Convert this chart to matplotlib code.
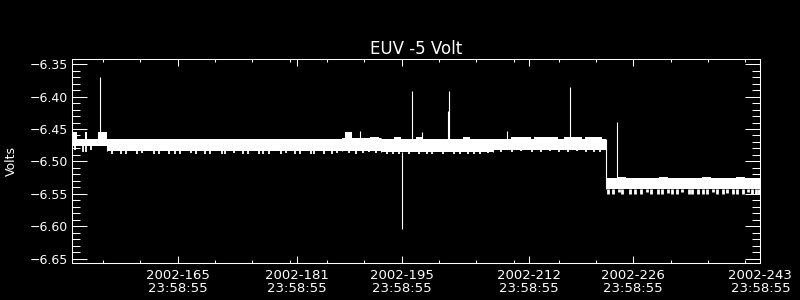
import numpy as np
import matplotlib
matplotlib.use("Agg")
import matplotlib.pyplot as plt
from matplotlib.ticker import MultipleLocator, FixedLocator

# ---- data (day of year 2002, volts) ----
seg_start = [150.88, 155.5, 187.0, 192.2, 207.2, 222.3]
seg_end   = [155.5, 187.0, 192.2, 207.2, 222.3, 243.0]
seg_top   = [-6.4655, -6.4655, -6.4640, -6.4655, -6.4655, -6.5254]
seg_bot   = [-6.4770, -6.4840, -6.4835, -6.4855, -6.4830, -6.5420]

# short blocks sticking out above the band
bump_start = [151.05, 152.62, 154.41, 187.4, 190.8, 194.0, 196.9, 203.2, 209.6, 212.7, 216.7, 219.6, 224.0, 229.5, 235.2, 239.8]
bump_end   = [151.59, 152.93, 155.61, 188.3, 191.9, 194.9, 197.8, 204.1, 212.3, 215.9, 219.2, 221.8, 225.0, 230.6, 236.4, 241.0]
bump_top   = [-6.4542, -6.4542, -6.4542, -6.4550, -6.4620, -6.4620, -6.4620, -6.4625, -6.4620, -6.4620, -6.4620, -6.4625, -6.5240, -6.5240, -6.5240, -6.5240]

# single samples poking out of the band
spike_day = [154.67, 189.4, 195.0, 196.37, 197.7, 201.33, 201.2, 209.06, 217.55, 223.85]
spike_val = [-6.370, -6.453, -6.6047, -6.391, -6.454, -6.391, -6.422, -6.453, -6.385, -6.439]

# jagged lower edge
dip_day = [151.3, 152.3, 152.8, 153.4, 156.3, 157.4, 158.1, 159.6, 160.2, 161.8, 162.5, 163.9,
           164.6, 165.3, 166.8, 167.5, 168.7, 169.4, 170.9, 171.3, 172.6, 173.8, 174.4,
           175.9, 176.5, 177.2, 178.8, 179.5, 180.7, 181.4, 182.9, 183.3, 184.6, 185.7,
           186.4, 188.0, 188.9, 189.8, 190.6, 191.5, 193.1, 193.8, 194.6, 196.0, 197.3,
           198.4, 199.1, 200.5, 202.0, 202.8, 203.9, 204.7, 205.5, 206.6, 208.3, 209.8,
           211.0, 212.4, 213.6, 214.9, 216.1, 217.3, 218.4, 219.7, 220.8, 221.6,
           222.6, 223.3, 224.1, 224.5, 225.6, 226.2, 227.0, 227.9, 228.4, 229.3, 229.8,
           230.6, 231.2, 231.9, 232.5, 233.4, 233.9, 234.6, 235.3, 235.9, 236.7, 237.2,
           238.0, 238.6, 239.4, 239.9, 240.7, 241.3, 241.9, 242.4, 242.8]
dip_val = [-6.482, -6.485, -6.485, -6.482, -6.489, -6.488, -6.489, -6.489, -6.487, -6.489, -6.489, -6.488,
           -6.489, -6.489, -6.487, -6.489, -6.489, -6.488, -6.489, -6.489, -6.487, -6.489, -6.489,
           -6.488, -6.489, -6.489, -6.489, -6.487, -6.489, -6.489, -6.488, -6.489, -6.489, -6.489,
           -6.487, -6.487, -6.488, -6.487, -6.486, -6.487, -6.489, -6.489, -6.488, -6.489, -6.489,
           -6.489, -6.488, -6.489, -6.489, -6.489, -6.488, -6.489, -6.489, -6.487, -6.485, -6.485,
           -6.484, -6.485, -6.485, -6.484, -6.485, -6.485, -6.484, -6.485, -6.485, -6.485,
           -6.551, -6.551, -6.548, -6.551, -6.551, -6.550, -6.551, -6.548, -6.551, -6.551, -6.551,
           -6.549, -6.551, -6.551, -6.548, -6.551, -6.551, -6.550, -6.551, -6.551, -6.548, -6.551,
           -6.551, -6.549, -6.551, -6.551, -6.551, -6.548, -6.551, -6.551, -6.550]

xtick_days   = [165, 181, 195, 212, 226, 243]
xtick_labels = ["2002-165\n23:58:55", "2002-181\n23:58:55", "2002-195\n23:58:55",
                "2002-212\n23:58:55", "2002-226\n23:58:55", "2002-243\n23:58:55"]
xminor_days  = [155, 160, 170, 175, 180, 185, 190, 200, 205, 210, 216, 221, 231, 236, 241]
ytick_vals   = [-6.65, -6.60, -6.55, -6.50, -6.45, -6.40, -6.35]

title = "EUV -5 Volt"
ylabel = "Volts"


def band_at(day):
    for s, e, t, b in zip(seg_start, seg_end, seg_top, seg_bot):
        if s <= day <= e:
            return b, t
    return seg_bot[-1], seg_top[-1]


fg = "white"
plt.rcParams["font.family"] = "DejaVu Sans"

fig = plt.figure(figsize=(8, 3), dpi=100, facecolor="black")
ax = fig.add_axes([0.09, 0.1223, 0.8604, 0.68], facecolor="black")

# main band
for s, e, t, b in zip(seg_start, seg_end, seg_top, seg_bot):
    ax.fill_between([s, e], b, t, color=fg, lw=0)
# jumps between segments
for i in range(1, len(seg_start)):
    lo = min(seg_bot[i - 1], seg_bot[i])
    hi = max(seg_top[i - 1], seg_top[i])
    ax.vlines(seg_start[i], lo, hi, color=fg, lw=0.8)

for s, e, v in zip(bump_start, bump_end, bump_top):
    b, t = band_at((s + e) / 2)
    ax.fill_between([s, e], t, v, color=fg, lw=0)

for d, v in zip(dip_day, dip_val):
    b, t = band_at(d)
    w = 2.0 if d > seg_start[-1] else 1.3
    ax.vlines(d, v, b, color=fg, lw=w)

for d, v in zip(spike_day, spike_val):
    b, t = band_at(d)
    if v > t:
        ax.vlines(d, t, v, color=fg, lw=0.8)
    else:
        ax.vlines(d, v, b, color=fg, lw=0.8)

ax.set_xlim(150.88, 243.0)
ax.set_ylim(-6.6574, -6.3424)

ax.xaxis.set_major_locator(FixedLocator(xtick_days))
ax.xaxis.set_minor_locator(FixedLocator(xminor_days))
ax.set_xticklabels(xtick_labels, linespacing=1.05)
ax.yaxis.set_major_locator(FixedLocator(ytick_vals))
ax.yaxis.set_minor_locator(MultipleLocator(0.01))
ax.yaxis.set_major_formatter(plt.FuncFormatter(lambda v, p: "\u2212%.2f" % abs(v)))

ax.tick_params(axis="x", which="major", direction="in", length=5, width=0.75,
               top=True, bottom=True, colors=fg, labelsize=9.5, pad=4)
ax.tick_params(axis="x", which="minor", direction="in", length=2.2, width=0.75,
               top=True, bottom=True, colors=fg)
ax.tick_params(axis="y", which="major", direction="in", length=10.6, width=0.75,
               left=True, right=True, colors=fg, labelsize=9, pad=3)
ax.tick_params(axis="y", which="minor", direction="in", length=5.8, width=0.75,
               left=True, right=True, colors=fg)

for sp in ax.spines.values():
    sp.set_color(fg)
    sp.set_linewidth(0.75)

ax.set_title(title, color=fg, fontsize=12, pad=4)
ax.set_ylabel(ylabel, color=fg, fontsize=9, labelpad=8)

fig.savefig("out.png", dpi=100, facecolor="black")
